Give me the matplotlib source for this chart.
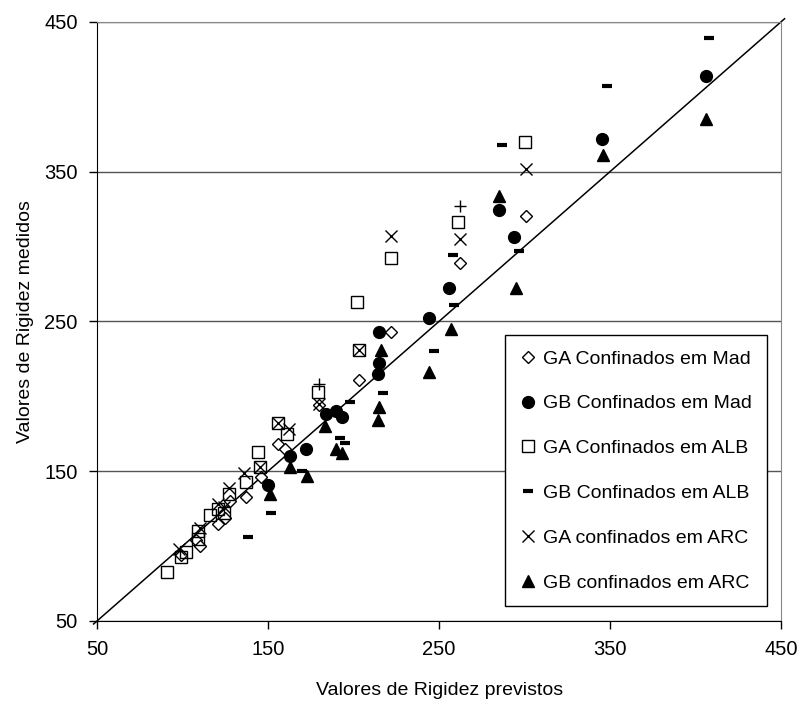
import numpy as np
import matplotlib.pyplot as plt

plt.rcParams['font.family'] = ['Liberation Sans', 'DejaVu Sans']

# GA Confinados em Mad (open diamond)
ga_mad_x = [99, 108, 110, 121, 125, 128, 137, 146, 156, 160, 180, 203, 222, 262, 301]
ga_mad_y = [94, 104, 100, 115, 119, 130, 133, 146, 168, 165, 194, 211, 243, 289, 320]

# GB Confinados em Mad (filled circle)
gb_mad_x = [150, 163, 172, 184, 190, 193, 214, 215, 215, 244, 256, 285, 294, 345, 406]
gb_mad_y = [141, 160, 165, 188, 190, 186, 215, 222, 243, 252, 272, 324, 306, 372, 414]

# GA Confinados em ALB (open square)
ga_alb_x = [91, 99, 102, 109, 109, 116, 121, 124, 127, 137, 144, 145, 156, 161, 179, 202, 203, 222, 261, 300]
ga_alb_y = [83, 93, 96, 105, 110, 121, 125, 122, 135, 143, 163, 153, 182, 175, 203, 263, 231, 292, 316, 370]

# GB Confinados em ALB (dash)
gb_alb_x = [138, 152, 170, 192, 195, 198, 217, 247, 258, 259, 287, 297, 348, 408]
gb_alb_y = [106, 122, 150, 172, 169, 196, 202, 230, 294, 261, 368, 297, 407, 439]

# GA confinados em ARC (x)
ga_arc_x = [98, 110, 121, 124, 127, 136, 145, 156, 162, 180, 203, 222, 262, 301]
ga_arc_y = [98, 112, 128, 126, 139, 149, 153, 182, 178, 195, 231, 307, 305, 352]

# GB confinados em ARC (filled triangle)
gb_arc_x = [151, 163, 173, 183, 190, 193, 214, 215, 216, 244, 257, 285, 295, 346, 406]
gb_arc_y = [135, 153, 147, 180, 165, 162, 184, 193, 231, 216, 245, 334, 272, 361, 385]

# extra points drawn with "+" (no legend entry)
plus_x = [180, 262]
plus_y = [208, 327]

fig = plt.figure(figsize=(8.02, 7.10), dpi=100)
ax = fig.add_axes([0.121, 0.1254, 0.853, 0.844])

ax.plot([48, 452], [48, 452], color='black', lw=1.1, clip_on=False, zorder=2)

ms = 8.5
ax.plot(ga_mad_x, ga_mad_y, 'D', ls='none', ms=6.5, mfc='white', mec='black', mew=1.0,
        label='GA Confinados em Mad', zorder=3)
ax.plot(gb_mad_x, gb_mad_y, 'o', ls='none', ms=ms, mfc='black', mec='black',
        label='GB Confinados em Mad', zorder=3)
ax.plot(ga_alb_x, ga_alb_y, 's', ls='none', ms=ms, mfc='none', mec='black', mew=1.0,
        label='GA Confinados em ALB', zorder=3)
ax.plot(gb_alb_x, gb_alb_y, '_', ls='none', ms=7, mec='black', mew=3,
        label='GB Confinados em ALB', zorder=3)
ax.plot(ga_arc_x, ga_arc_y, 'x', ls='none', ms=9, mec='black', mew=1.0,
        label='GA confinados em ARC', zorder=3)
ax.plot(gb_arc_x, gb_arc_y, '^', ls='none', ms=ms, mfc='black', mec='black',
        label='GB confinados em ARC', zorder=3)
ax.plot(plus_x, plus_y, '+', ls='none', ms=8, mec='black', mew=1.0, zorder=3)

ax.set_xlim(50, 450)
ax.set_ylim(50, 450)
ax.set_xticks([50, 150, 250, 350, 450])
ax.set_yticks([50, 150, 250, 350, 450])
ax.yaxis.grid(True, color='#555555', lw=1.0)
ax.set_axisbelow(True)
ax.tick_params(direction='out', length=6, width=1, labelsize=14.5, pad=8)

for s in ['left', 'bottom']:
    ax.spines[s].set_color('black')
for s in ['top', 'right']:
    ax.spines[s].set_color('#888888')

ax.set_xlabel('Valores de Rigidez previstos', fontsize=14, labelpad=16)
ax.set_ylabel('Valores de Rigidez medidos', fontsize=14, labelpad=7)

leg = ax.legend(bbox_to_anchor=(0.599, 0.015, 0.378, 0.471), loc='center',
                fontsize=14, frameon=True, fancybox=False, edgecolor='black',
                framealpha=1, labelspacing=1.4, handlelength=0.8,
                handletextpad=0.4, borderpad=0.75)
leg.get_frame().set_linewidth(1.0)

fig.savefig('out.png', dpi=100)
